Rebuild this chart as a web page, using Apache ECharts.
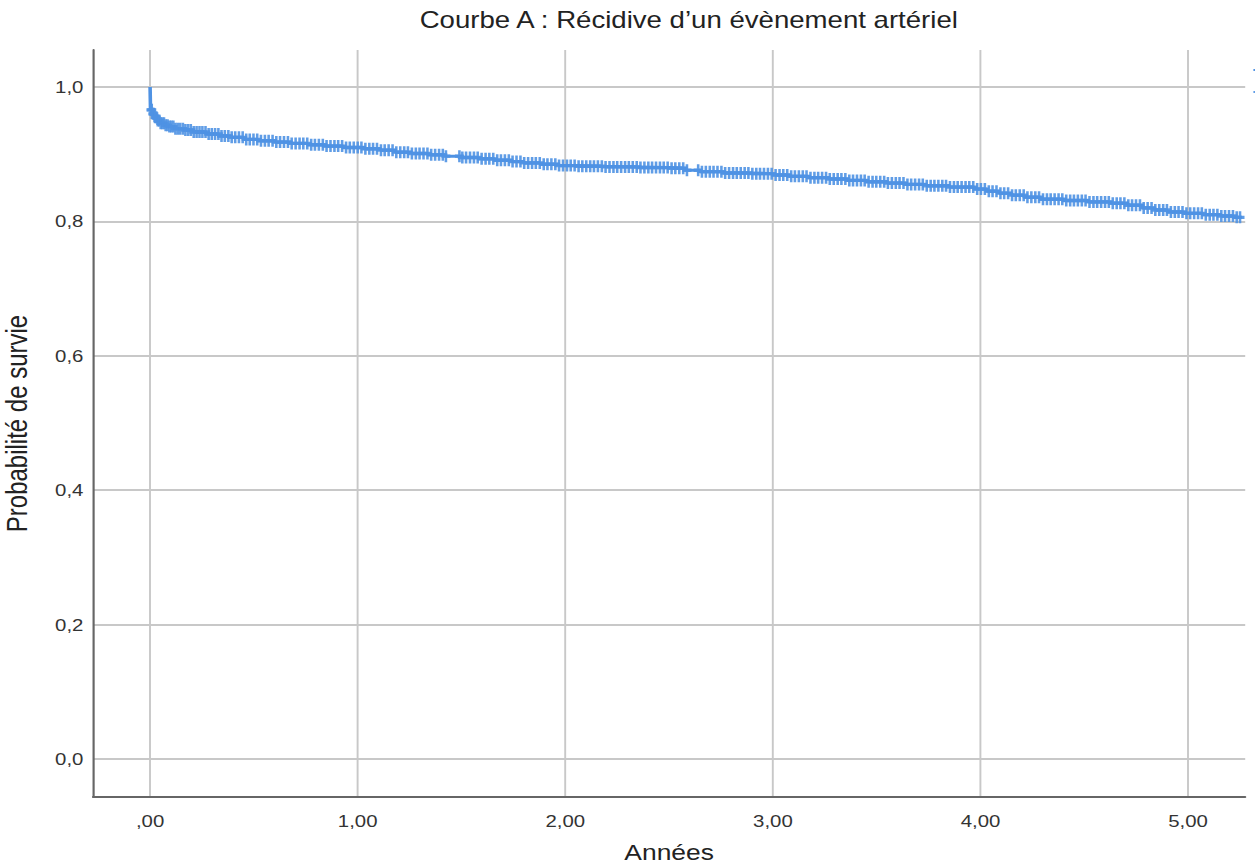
<!DOCTYPE html>
<html>
<head>
<meta charset="utf-8">
<script src="https://cdn.jsdelivr.net/npm/echarts@6/dist/echarts.min.js"></script>
<style>
html,body{margin:0;padding:0;background:#fff;overflow:hidden;}
#wrap{width:1255px;height:867px;overflow:hidden;position:relative;}
#chart{width:1045.83px;height:867px;transform:scaleX(1.2);transform-origin:0 0;}
</style>
</head>
<body>
<div id="wrap"><div id="chart"></div></div>
<script>
// Kaplan-Meier step points: event times (years) and survival after each event
const eventTimes = [0, 0.002, 0.01, 0.02, 0.035, 0.05, 0.07, 0.09, 0.12, 0.16, 0.21, 0.27, 0.33, 0.39, 0.45, 0.52, 0.60, 0.68, 0.76, 0.84, 0.93, 1.03, 1.11, 1.18, 1.26, 1.34, 1.42, 1.50, 1.58, 1.66, 1.74, 1.80, 1.88, 1.97, 2.06, 2.18, 2.36, 2.50, 2.58, 2.65, 2.76, 2.90, 3.00, 3.08, 3.17, 3.27, 3.36, 3.45, 3.55, 3.64, 3.74, 3.85, 3.97, 4.03, 4.09, 4.15, 4.21, 4.29, 4.40, 4.52, 4.63, 4.71, 4.78, 4.84, 4.90, 4.98, 5.07, 5.16, 5.22];
const survival = [1.0, 0.966, 0.960, 0.955, 0.950, 0.946, 0.943, 0.941, 0.938, 0.936, 0.933, 0.930, 0.927, 0.925, 0.922, 0.920, 0.918, 0.916, 0.914, 0.912, 0.910, 0.908, 0.906, 0.903, 0.901, 0.899, 0.897, 0.895, 0.893, 0.891, 0.889, 0.887, 0.885, 0.883, 0.882, 0.881, 0.880, 0.879, 0.876, 0.874, 0.872, 0.871, 0.869, 0.867, 0.865, 0.863, 0.861, 0.859, 0.857, 0.855, 0.853, 0.851, 0.848, 0.845, 0.842, 0.839, 0.836, 0.833, 0.831, 0.829, 0.827, 0.824, 0.820, 0.817, 0.814, 0.812, 0.810, 0.808, 0.806];
const lastTime = 5.26;
// censored observation times (years)
const censorTimes = [0.004,0.008,0.013,0.018,0.024,0.03,0.037,0.044,0.051,0.059,0.067,0.075,0.084,0.093,0.102,0.112,0.122,0.133,0.145,0.158,0.17,0.183,0.196,0.21,0.224,0.238,0.252,0.267,0.282,0.297,0.313,0.329,0.344,0.36,0.377,0.393,0.41,0.428,0.446,0.463,0.48,0.498,0.516,0.534,0.553,0.571,0.59,0.608,0.626,0.645,0.664,0.682,0.701,0.72,0.738,0.757,0.776,0.794,0.813,0.832,0.85,0.869,0.888,0.906,0.925,0.944,0.962,0.981,1.0,1.018,1.037,1.056,1.074,1.093,1.112,1.13,1.149,1.168,1.186,1.205,1.224,1.242,1.261,1.28,1.298,1.317,1.336,1.354,1.373,1.392,1.41,1.425,1.49,1.504,1.522,1.541,1.56,1.578,1.597,1.616,1.634,1.653,1.672,1.69,1.709,1.728,1.746,1.765,1.784,1.802,1.821,1.84,1.858,1.877,1.896,1.914,1.933,1.952,1.97,1.989,2.008,2.026,2.045,2.064,2.082,2.101,2.12,2.138,2.157,2.176,2.194,2.213,2.232,2.25,2.269,2.288,2.306,2.325,2.344,2.362,2.381,2.4,2.418,2.437,2.456,2.474,2.493,2.512,2.53,2.549,2.568,2.586,2.64,2.658,2.677,2.696,2.714,2.733,2.752,2.77,2.789,2.808,2.826,2.845,2.864,2.882,2.901,2.92,2.938,2.957,2.976,2.994,3.013,3.032,3.05,3.069,3.088,3.106,3.125,3.144,3.162,3.181,3.2,3.218,3.237,3.256,3.274,3.293,3.312,3.33,3.349,3.368,3.386,3.405,3.424,3.442,3.461,3.48,3.498,3.517,3.536,3.554,3.573,3.592,3.61,3.629,3.648,3.666,3.685,3.704,3.722,3.741,3.76,3.778,3.797,3.816,3.834,3.853,3.872,3.89,3.909,3.928,3.946,3.965,3.984,4.002,4.021,4.04,4.058,4.077,4.096,4.114,4.133,4.152,4.17,4.189,4.208,4.226,4.245,4.264,4.282,4.301,4.32,4.338,4.357,4.376,4.394,4.413,4.432,4.45,4.469,4.488,4.506,4.525,4.544,4.562,4.581,4.6,4.618,4.637,4.656,4.674,4.693,4.712,4.73,4.749,4.768,4.786,4.805,4.824,4.842,4.861,4.88,4.898,4.917,4.936,4.954,4.973,4.992,5.01,5.029,5.048,5.066,5.085,5.104,5.122,5.141,5.16,5.178,5.197,5.216,5.234,5.25];
const xTicks = [0, 1, 2, 3, 4, 5];
const yTicks = [0, 0.2, 0.4, 0.6, 0.8, 1.0];
const titleText = 'Courbe A : Récidive d\u2019un évènement artériel';
const xName = 'Années';
const yName = 'Probabilité de survie';
const legendNames = ['Fonction de survie', 'Censuré'];

function survAt(t) {
  let s = survival[0];
  for (let i = 0; i < eventTimes.length; i++) { if (eventTimes[i] <= t) s = survival[i]; }
  return s;
}
const lineData = eventTimes.map((t, i) => [t, survival[i]]);
lineData.push([lastTime, survival[survival.length - 1]]);
const censorData = censorTimes.map(t => [t, survAt(t)]);

const blue = '#4f92e3';
const font = 'Liberation Sans, Arial, Helvetica, sans-serif';
const chart = echarts.init(document.getElementById('chart'), null, { renderer: 'svg' });
chart.setOption({
  animation: false,
  backgroundColor: '#ffffff',
  title: {
    text: titleText, left: 569, top: 3, textAlign: 'center',
    textStyle: { fontFamily: font, fontSize: 23, fontWeight: 'normal', color: '#222' }
  },
  legend: {
    orient: 'vertical', left: 1039.5, top: 64, itemGap: 20, itemWidth: 20, itemHeight: 2,
    icon: 'rect', formatter: () => '',
    data: legendNames, textStyle: { fontFamily: font, fontSize: 14, lineHeight: 14, color: '#333' }
  },
  grid: { left: 77.5, right: 8.33, top: 50, bottom: 70, outerBoundsMode: 'none', containLabel: false },
  xAxis: {
    type: 'value', min: -0.275, max: 5.275,
    name: xName, nameLocation: 'middle', nameGap: 44,
    nameTextStyle: { fontFamily: font, fontSize: 22, color: '#222' },
    axisLine: { show: true, onZero: false, lineStyle: { color: '#666', width: 1.8 } },
    axisTick: { show: false, customValues: xTicks },
    axisLabel: {
      customValues: xTicks, margin: 16, fontFamily: font, fontSize: 17, color: '#333',
      formatter: v => (v === 0 ? ',00' : v.toFixed(2).replace('.', ','))
    },
    splitLine: { show: true, lineStyle: { color: '#c8c8c8', width: 1.6 } }
  },
  yAxis: {
    type: 'value', min: -0.0565, max: 1.055,
    name: yName, nameLocation: 'middle', nameGap: 51, nameRotate: 90,
    nameTextStyle: { fontFamily: font, fontSize: 24, color: '#222' },
    axisLine: { show: true, onZero: false, lineStyle: { color: '#666', width: 1.8 } },
    axisTick: { show: false, customValues: yTicks },
    axisLabel: {
      customValues: yTicks, margin: 8, fontFamily: font, fontSize: 17, color: '#333',
      formatter: v => v.toFixed(1).replace('.', ',')
    },
    splitLine: { show: true, lineStyle: { color: '#c8c8c8', width: 1.8 } }
  },
  series: [
    {
      name: legendNames[0], type: 'line', step: 'end', data: lineData,
      showSymbol: false, lineStyle: { color: blue, width: 3 }, itemStyle: { color: blue }, z: 3
    },
    {
      name: legendNames[1], type: 'scatter', data: censorData,
      symbol: 'path://M3,0H5.4V3.6H8.4V6.4H5.4V10H3V6.4H0V3.6H3Z', symbolSize: [7.5, 12],
      itemStyle: { color: blue, opacity: 0.9 }, z: 4
    }
  ]
});
</script>
</body>
</html>
